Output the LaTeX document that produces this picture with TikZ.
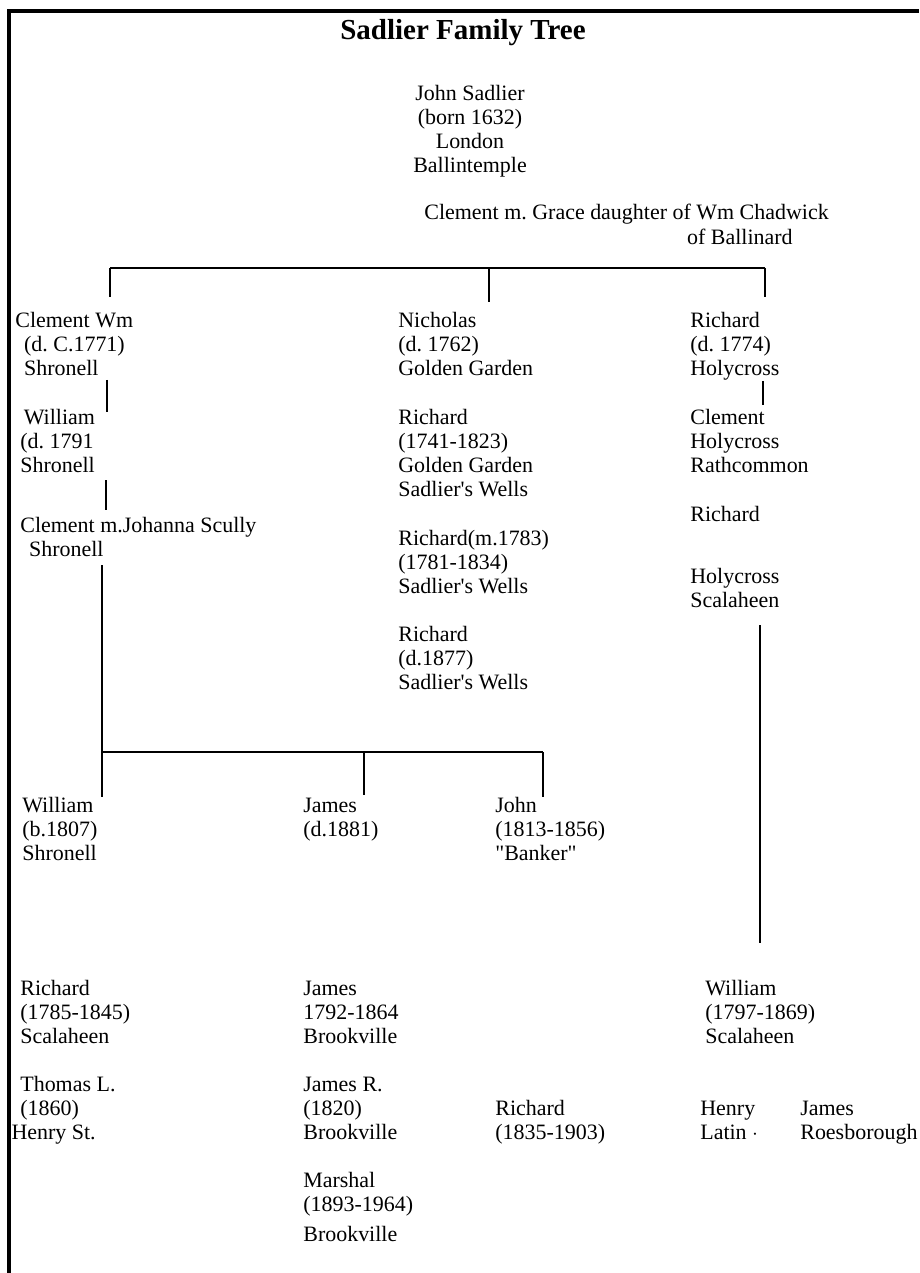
\documentclass[tikz,border=0pt]{standalone}
\usepackage{fontspec}
\setmainfont{Liberation Serif}
\usetikzlibrary{positioning}

\tikzset{
  person/.style={anchor=base west, inner sep=0pt, align=left,
    font=\fontsize{12.5}{13.66}\selectfont\frenchspacing},
  bus/.style={line width=1.1pt},
  tick/.style={line width=1.6pt},
}
\newcommand{\apos}{\textquotesingle}

\begin{document}
\begin{tikzpicture}[x=0.02cm, y=-0.02cm]
    \useasboundingbox (0,0) rectangle (919,1273);
    % frame
    \draw[line width=2.6pt] (9,1273) -- (9,11) -- (919,11);
    \node[anchor=base, inner sep=0pt, font=\bfseries\fontsize{16.5}{20}\selectfont] (title) at (463,40) {Sadlier Family Tree};

    % founder (base anchor = baseline of the last line)
    \node[person, anchor=base, align=center] (john) at (470,173) {John Sadlier\\(born 1632)\\London\\Ballintemple};
    \node[person] (clement) at (424,220) {Clement m. Grace daughter of Wm Chadwick};
    \node[person, anchor=base east] (ballinard) at (793,245) {of Ballinard};

    % children of Clement
    \node[person] (clemwm) at (15,376) {Clement Wm\\\hspace{5pt}(d. C.1771)\\\hspace{5pt}Shronell};
    \node[person] (william) at (20,472) {\hspace{2pt}William\\(d. 1791\\Shronell};
    \node[person] (clemjo) at (20,556) {Clement m.Johanna Scully\\\hspace{5pt}Shronell};

    \node[person] (nicholas) at (398,376) {Nicholas\\(d. 1762)\\Golden Garden};
    \node[person] (rich1741) at (398,496) {Richard\\(1741-1823)\\Golden Garden\\Sadlier\apos s Wells};
    \node[person] (rich1781) at (398,593) {Richard(m.1783)\\(1781-1834)\\Sadlier\apos s Wells};
    \node[person] (rich1877) at (398,689) {Richard\\(d.1877)\\Sadlier\apos s Wells};

    \node[person] (rich1774) at (690,376) {Richard\\(d. 1774)\\Holycross};
    \node[person] (clemhc) at (690,472) {Clement\\Holycross\\Rathcommon};
    \node[person] (richhc) at (690,521) {Richard};
    \node[person] (scal) at (690,607) {Holycross\\Scalaheen};

    % children of Clement m.Johanna Scully
    \node[person] (will1807) at (22,860) {William\\(b.1807)\\Shronell};
    \node[person] (james1881) at (303,836) {James\\(d.1881)};
    \node[person] (john1813) at (495,860) {John\\(1813-1856)\\\textquotedbl Banker\textquotedbl};

    % later lines
    \node[person] (rich1785) at (20,1043) {Richard\\(1785-1845)\\Scalaheen};
    \node[person] (thomas) at (20,1139) {Thomas L.\\(1860)\\\hspace{-5pt}Henry St.};
    \node[person] (james1792) at (303,1043) {James\\1792-1864\\Brookville};
    \node[person] (jamesr) at (303,1139) {James R.\\(1820)\\Brookville};
    \node[person] (marshal) at (303,1241) {Marshal\\(1893-1964)\\[3pt]Brookville};
    \node[person] (rich1835) at (495,1139) {Richard\\(1835-1903)};
    \node[person] (will1797) at (705,1043) {William\\(1797-1869)\\Scalaheen};
    \node[person] (henry) at (700,1139) {Henry\\Latin $\cdot$};
    \node[person] (jamesroes) at (800,1139) {James\\Roesborough};

    % bus lines
    \coordinate (busL) at (110,268);
    \coordinate (busM) at (489,268);
    \coordinate (busR) at (765,268);
    \coordinate (dropL) at (110,297);
    \coordinate (dropM) at (489,302);
    \coordinate (dropR) at (765,297);
    \draw[bus] (busL) -- (busR);
    \draw[tick] (busL) -- (dropL);
    \draw[tick] (busM) -- (dropM);
    \draw[tick] (busR) -- (dropR);

    \coordinate (a1) at (107,380);
    \coordinate (a2) at (107,412);
    \coordinate (b1) at (106,480);
    \coordinate (b2) at (106,510);
    \draw[tick] (a1) -- (a2);
    \draw[tick] (b1) -- (b2);

    \coordinate (sc1) at (102,565);
    \coordinate (sc2) at (102,797);
    \coordinate (jbus) at (102,752);
    \coordinate (jbusM) at (364,752);
    \coordinate (jbusR) at (543,752);
    \coordinate (jdropM) at (364,795);
    \coordinate (jdropR) at (543,797);
    \draw[bus] (sc1) -- (sc2);
    \draw[bus] (jbus) -- (jbusR);
    \draw[bus] (jbusM) -- (jdropM);
    \draw[tick] (jbusR) -- (jdropR);

    \coordinate (c1) at (763,381);
    \coordinate (c2) at (763,405);
    \coordinate (h1) at (760,625);
    \coordinate (h2) at (760,943);
    \draw[tick] (c1) -- (c2);
    \draw[bus] (h1) -- (h2);
\end{tikzpicture}
\end{document}
